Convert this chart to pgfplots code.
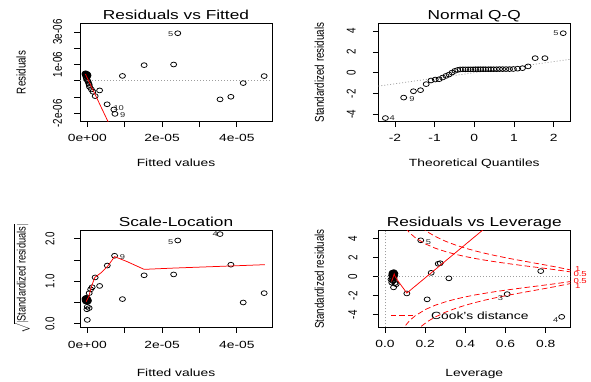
\documentclass[border=0pt]{standalone}
\usepackage{pgfplots}
\pgfplotsset{compat=1.18}
\usepackage{fontspec}
\setmainfont{Liberation Sans}[FakeStretch=1.33]
\newfontfamily\rotfont{Liberation Sans}
\newcommand{\lab}{\fontsize{10.4}{12}\selectfont}
\newcommand{\rlab}{\rotfont\fontsize{9.8}{12}\selectfont}
\newcommand{\ttl}{\fontsize{13}{15}\selectfont}
\newcommand{\idf}{\fontsize{7}{8}\selectfont}
\newcommand{\redf}{\fontsize{7.2}{8}\selectfont}
\newcommand{\sy}[1]{\scalebox{1}[1.3]{#1}}
\definecolor{rgray}{gray}{0.62}
\tikzset{cookline/.style={red, line width=0.75pt, dash pattern=on 5.5pt off 3pt}}
\pgfplotsset{
  rbase/.style={
    scale only axis, width=192pt, anchor=south west,
    axis line style={line width=0.75pt},
    tick align=outside, tick pos=left,
    major tick length=5.5pt,
    every tick/.style={black, line width=0.75pt},
    tick label style={font=\lab, inner sep=0pt},
    yticklabel style={font=\rlab},
    every axis title/.style={at={(0.5,1)}, anchor=base, yshift=3.7pt, font=\ttl},
    every axis x label/.style={at={(axis description cs:0.5,0)}, anchor=base, font=\lab},
    every axis y label/.style={at={(axis description cs:0,0.5)}, xshift=-54.4pt, rotate=90, anchor=base, font=\rlab},
    clip mode=individual,
    scaled ticks=false,
  },
  pts/.style={only marks, mark=o, mark size=2.4pt, mark options={xscale=1.25, line width=0.75pt, black}},
  zline/.style={rgray, line width=0.7pt, dash pattern=on 1pt off 2pt},
  smooth red/.style={red, line width=0.75pt, no marks},
  cook/.style={red, line width=0.75pt, no marks, dash pattern=on 5.5pt off 3pt},
}
\begin{document}
\begin{tikzpicture}
\fill[white] (0,0) rectangle (591pt,381pt);

% ---------------- Residuals vs Fitted ----------------
\begin{axis}[rbase, name=p1, at={(80pt,259.3pt)}, height=98.4pt,
  xmin=-0.195, xmax=4.94, ymin=-2.51, ymax=3.53,
  xtick={0,1,2,3,4}, xticklabels={0e+00,,2e-05,,4e-05},
  ytick={-2,-1,0,1,2,3}, yticklabels={\sy{-2e-06},,,\sy{1e-06},,\sy{3e-06}},
  xticklabel style={anchor=center, yshift=-10.9pt},
  yticklabel style={xshift=-17pt, rotate=90, anchor=center},
  xlabel style={yshift=-45pt},
  title={Residuals vs Fitted}, xlabel={Fitted values}, ylabel={\sy{Residuals}}]
\addplot[zline] coordinates {(-0.195,0) (4.94,0)};
\addplot[pts] coordinates {
(2.42,2.92) (1.52,0.96) (2.31,1.00) (0.94,0.30) (4.73,0.29) (4.17,-0.14) (3.84,-0.98) (3.55,-1.14)
(0.33,-0.59) (0.21,-0.94) (0.53,-1.44) (0.71,-1.76) (0.74,-2.03)
(0.15,-0.67) (0.11,-0.53) (0.06,-0.37) (0.05,-0.25) (0.04,-0.16) (0.02,-0.05) (0.0,0.04) (-0.02,0.12) (-0.03,0.2)
(-0.06,0.40) (-0.05,0.42) (-0.04,0.38) (-0.03,0.43) (-0.02,0.40) (-0.01,0.36) (0.0,0.41) (0.01,0.38) (0.02,0.33)
(-0.05,0.35) (-0.04,0.30) (-0.03,0.33) (-0.02,0.28) (-0.01,0.31) (0.0,0.30) (0.01,0.26) (-0.06,0.45) (-0.04,0.46)};
\addplot[smooth red] coordinates {(-0.05,0.41) (0.8,-3.69)};
\node[font=\idf, black!85] at (axis cs:2.23,2.88) {5};
\node[font=\idf, black!85] at (axis cs:0.84,-1.66) {10};
\node[font=\idf, black!85] at (axis cs:0.95,-2.12) {9};
\end{axis}

% ---------------- Normal Q-Q ----------------
\begin{axis}[rbase, name=p2, at={(378.3pt,259.3pt)}, height=98.4pt,
  xmin=-2.42, xmax=2.42, ymin=-4.68, ymax=4.75,
  xtick={-2,-1,0,1,2}, xticklabels={-2,-1,0,1,2},
  ytick={-4,-2,0,2,4}, yticklabels={\sy{-4},\sy{-2},\sy{0},\sy{2},\sy{4}},
  xticklabel style={anchor=center, yshift=-10.9pt},
  yticklabel style={xshift=-21.6pt, rotate=90, anchor=center},
  xlabel style={yshift=-45pt},
  title={Normal Q-Q}, xlabel={Theoretical Quantiles}, ylabel={\sy{Standardized residuals}}]
\addplot[zline] coordinates {(-2.42,-1.27) (2.42,1.30)};
\addplot[pts] coordinates {
(-2.241,-4.33) (-1.780,-2.37) (-1.534,-1.76) (-1.356,-1.66) (-1.213,-1.08) (-1.092,-0.73) (-0.984,-0.64)
(-0.887,-0.61) (-0.798,-0.45) (-0.714,-0.29) (-0.636,-0.16) (-0.561,0.03) (-0.489,0.19) (-0.419,0.28)
(-0.352,0.33) (-0.287,0.34) (-0.222,0.34) (-0.157,0.34) (-0.094,0.34) (-0.031,0.34) (0.031,0.35) (0.094,0.35)
(0.157,0.35) (0.222,0.35) (0.287,0.35) (0.352,0.35) (0.419,0.35) (0.489,0.35) (0.561,0.35) (0.636,0.36)
(0.714,0.36) (0.798,0.36) (0.887,0.36) (0.984,0.37) (1.092,0.40) (1.213,0.45) (1.356,0.62) (1.534,1.41)
(1.780,1.41) (2.241,3.80)};
\node[font=\idf, black!85] at (axis cs:-2.07,-4.30) {4};
\node[font=\idf, black!85] at (axis cs:-1.57,-2.50) {9};
\node[font=\idf, black!85] at (axis cs:2.06,3.82) {5};
\end{axis}

% ---------------- Scale-Location ----------------
\begin{axis}[rbase, name=p3, at={(80pt,53.7pt)}, height=96.6pt,
  xmin=-0.195, xmax=4.94, ymin=-0.084, ymax=2.19,
  xtick={0,1,2,3,4}, xticklabels={0e+00,,2e-05,,4e-05},
  ytick={0,0.5,1,1.5,2}, yticklabels={\sy{0.0},,\sy{1.0},,\sy{2.0}},
  xticklabel style={anchor=center, yshift=-12pt},
  yticklabel style={xshift=-24.5pt, rotate=90, anchor=center},
  xlabel style={yshift=-49pt},
  title={Scale-Location}, xlabel={Fitted values},
  ylabel={\sy{\fontsize{9.3}{11}\selectfont$\sqrt{|\mbox{Standardized residuals}|}$}}]
\addplot[pts] coordinates {
(3.55,2.11) (2.42,1.96) (0.73,1.60) (0.535,1.37) (1.52,1.14) (2.31,1.16) (3.84,1.39) (4.73,0.72) (4.17,0.50)
(0.94,0.58) (0.33,0.89) (0.21,1.09) (0.13,0.86) (0.09,0.81) (0.05,0.72) (0.0,0.40) (-0.01,0.34) (0.05,0.37) (0.0,0.09)
(-0.06,0.56) (-0.05,0.58) (-0.04,0.55) (-0.03,0.57) (-0.02,0.59) (-0.01,0.56) (0.0,0.58) (0.01,0.55) (0.02,0.57)
(0.03,0.54) (-0.05,0.53) (-0.04,0.60) (-0.03,0.52) (-0.02,0.55) (-0.01,0.60) (0.0,0.53) (0.01,0.58) (0.02,0.52)
(-0.06,0.59) (-0.03,0.61) (0.0,0.56)};
\addplot[smooth red] coordinates {(-0.03,0.52) (0.04,0.64) (0.11,0.87) (0.2,1.09) (0.37,1.20) (0.55,1.36) (0.73,1.58)
(1.07,1.46) (1.52,1.28) (2.31,1.31) (3.84,1.36) (4.75,1.39)};
\node[font=\idf, black!85] at (axis cs:3.42,2.11) {4};
\node[font=\idf, black!85] at (axis cs:2.23,1.92) {5};
\node[font=\idf, black!85] at (axis cs:0.94,1.56) {9};
\end{axis}

% ---------------- Residuals vs Leverage ----------------
\begin{axis}[rbase, name=p4, at={(378.3pt,53.7pt)}, height=96.6pt,
  xmin=-0.033, xmax=0.922, ymin=-5.32, ymax=4.84,
  xtick={0,0.2,0.4,0.6,0.8}, xticklabels={0.0,0.2,0.4,0.6,0.8},
  ytick={-4,-2,0,2,4}, yticklabels={\sy{-4},\sy{-2},\sy{0},\sy{2},\sy{4}},
  xticklabel style={anchor=center, yshift=-11.6pt},
  yticklabel style={xshift=-20pt, rotate=90, anchor=center},
  xlabel style={yshift=-49pt},
  title={Residuals vs Leverage}, xlabel={Leverage}, ylabel={\sy{Standardized residuals}}]
\addplot[zline] coordinates {(-0.033,0) (0.922,0)};
\addplot[zline] coordinates {(0,-5.32) (0,4.84)};
\addplot[pts] coordinates {
(0.178,3.83) (0.265,1.36) (0.275,1.42) (0.23,0.41) (0.318,-0.17) (0.775,0.59) (0.109,-1.76) (0.21,-2.38)
(0.608,-1.83) (0.879,-4.22)
(0.043,-1.12) (0.056,-0.79) (0.05,-0.66) (0.034,-0.62) (0.04,-0.46) (0.03,-0.30) (0.045,-0.16) (0.038,0.03)
(0.042,0.19) (0.046,0.28) (0.035,0.33) (0.038,0.36) (0.040,0.30) (0.042,0.38) (0.044,0.34) (0.046,0.40)
(0.048,0.36) (0.050,0.32) (0.036,0.42) (0.041,0.45) (0.045,0.48) (0.039,0.25) (0.043,0.22) (0.047,0.27)
(0.033,0.15) (0.037,0.08) (0.049,0.12) (0.044,-0.05) (0.036,-0.2) (0.041,-0.38)};
\addplot[smooth red] coordinates {(0.033,-0.5) (0.04,-0.1) (0.046,0.3) (0.05,0.05) (0.07,-0.6) (0.109,-1.72) (0.6,6.9)};
% Cook's distance 0.5
\addplot[cook] coordinates {(0.08,5.87) (0.09,5.51) (0.1,5.20) (0.11,4.93) (0.12,4.69) (0.13,4.48) (0.15,4.12)
(0.2,3.46) (0.25,3.00) (0.3,2.65) (0.35,2.36) (0.4,2.12) (0.45,1.91) (0.5,1.732) (0.55,1.567) (0.6,1.414)
(0.65,1.271) (0.7,1.134) (0.75,1.0) (0.8,0.866) (0.85,0.728) (0.922,0.511)};
\addplot[cook] coordinates {(0.08,-5.87) (0.09,-5.51) (0.1,-5.20) (0.11,-4.93) (0.12,-4.69) (0.13,-4.48) (0.15,-4.12)
(0.2,-3.46) (0.25,-3.00) (0.3,-2.65) (0.35,-2.36) (0.4,-2.12) (0.45,-1.91) (0.5,-1.732) (0.55,-1.567) (0.6,-1.414)
(0.65,-1.271) (0.7,-1.134) (0.75,-1.0) (0.8,-0.866) (0.85,-0.728) (0.922,-0.511)};
% Cook's distance 1
\addplot[cook] coordinates {(0.15,5.83) (0.16,5.61) (0.18,5.23) (0.2,4.90) (0.22,4.61) (0.25,4.24) (0.3,3.74)
(0.35,3.34) (0.4,3.0) (0.45,2.71) (0.5,2.449) (0.55,2.216) (0.6,2.0) (0.65,1.797) (0.7,1.604) (0.75,1.414)
(0.8,1.225) (0.85,1.029) (0.922,0.722)};
\addplot[cook] coordinates {(0.15,-5.83) (0.16,-5.61) (0.18,-5.23) (0.2,-4.90) (0.22,-4.61) (0.25,-4.24) (0.3,-3.74)
(0.35,-3.34) (0.4,-3.0) (0.45,-2.71) (0.5,-2.449) (0.55,-2.216) (0.6,-2.0) (0.65,-1.797) (0.7,-1.604) (0.75,-1.414)
(0.8,-1.225) (0.85,-1.029) (0.922,-0.722)};
\node[font=\idf, black!85] at (axis cs:0.216,3.63) {5};
\node[font=\idf, black!85] at (axis cs:0.574,-2.24) {3};
\node[font=\idf, black!85] at (axis cs:0.849,-4.59) {4};
\node[font=\redf, red, anchor=west, inner sep=0pt, xshift=4.5pt] at (axis cs:0.922,0.85) {1};
\node[font=\redf, red, anchor=west, inner sep=0pt, xshift=3pt] at (axis cs:0.922,0.32) {0.5};
\node[font=\redf, red, anchor=west, inner sep=0pt, xshift=4.5pt] at (axis cs:0.922,-0.95) {1};
\node[font=\redf, red, anchor=west, inner sep=0pt, xshift=3pt] at (axis cs:0.922,-0.42) {0.5};
\draw[cookline] (axis cs:0.03,-4.07) -- (axis cs:0.139,-4.07);
\node[font=\lab, anchor=west, inner sep=0pt] at (axis cs:0.229,-4.15) {Cook's distance};
\end{axis}
\end{tikzpicture}
\end{document}
